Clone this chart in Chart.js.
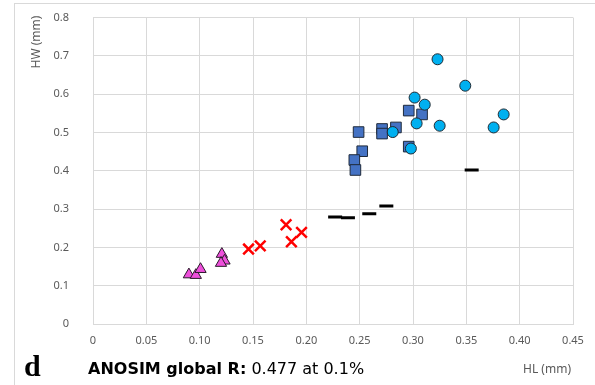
<!DOCTYPE html>
<html lang="en">
  <head>
    <meta charset="UTF-8" />
    <title>HW vs HL</title>
    <script src="https://cdn.jsdelivr.net/npm/chart.js"></script>
    <style>
      html, body { margin: 0; padding: 0; background: #fff; }
      #wrap { position: relative; width: 595px; height: 385px; overflow: hidden; }
      #frame {
        position: absolute; left: 14px; top: 3px; right: 0; bottom: 0;
        border-left: 1px solid #d9d9d9; border-top: 1px solid #d9d9d9;
      }
      canvas { position: absolute; left: 0; top: 0; }
      .lbl { position: absolute; white-space: nowrap; color: #595959; font-family: "Noto Sans", sans-serif; font-size: 12px; }
      #ytitle { left: 35px; top: 42px; transform: translate(-50%, -50%) rotate(-90deg); }
      #xtitle { right: 24px; top: 360px; }
      #letter { position: absolute; left: 24px; top: 349px; font-family: "Liberation Serif", serif; font-weight: bold; font-size: 30px; color: #000; }
      #anosim { position: absolute; left: 88px; top: 359px; font-family: "DejaVu Sans", sans-serif; font-size: 16px; color: #000; white-space: nowrap; }
    </style>
  </head>
  <body>
    <div id="wrap">
      <div id="frame"></div>
      <canvas id="hwChart" width="595" height="385"></canvas>
      <div class="lbl" id="ytitle">HW (mm)</div>
      <div class="lbl" id="xtitle">HL (mm)</div>
      <div id="letter">d</div>
      <div id="anosim"><b>ANOSIM global R:</b> 0.477 at 0.1%</div>
    </div>

    <script>
      // groups (HL on x, HW on y, both in mm)
      const circleHL = [0.323, 0.349, 0.3015, 0.311, 0.385, 0.3756, 0.325, 0.3034, 0.281, 0.298];
      const circleHW = [0.691, 0.622, 0.591, 0.5725, 0.547, 0.513, 0.5175, 0.5236, 0.501, 0.458];

      const squareHL = [0.249, 0.2524, 0.245, 0.246, 0.271, 0.271, 0.284, 0.296, 0.3085, 0.296];
      const squareHW = [0.501, 0.451, 0.428, 0.402, 0.509, 0.497, 0.513, 0.557, 0.547, 0.463];

      const dashHL = [0.227, 0.239, 0.259, 0.275, 0.355];
      const dashHW = [0.279, 0.2775, 0.288, 0.308, 0.402];

      const crossHL = [0.1458, 0.1568, 0.181, 0.1955, 0.186];
      const crossHW = [0.1956, 0.204, 0.259, 0.239, 0.2147];

      const triHL = [0.0899, 0.0964, 0.1008, 0.1208, 0.1233, 0.12];
      const triHW = [0.129, 0.1275, 0.143, 0.1825, 0.165, 0.159];

      const xTicks = [0, 0.05, 0.1, 0.15, 0.2, 0.25, 0.3, 0.35, 0.4, 0.45];
      const yTicks = [0, 0.1, 0.2, 0.3, 0.4, 0.5, 0.6, 0.7, 0.8];

      const pts = (xs, ys) => xs.map((x, i) => ({ x: x, y: ys[i] }));

      const grid = "#d9d9d9";
      const tickFont = { family: "Noto Sans", size: 11 };

      const ctx = document.getElementById("hwChart").getContext("2d");
      new Chart(ctx, {
        type: "scatter",
        data: {
          datasets: [
            {
              data: pts(circleHL, circleHW),
              pointStyle: "circle",
              pointRadius: 5.5,
              backgroundColor: "#00b0f0",
              borderColor: "#1f2a33",
              borderWidth: 1,
            },
            {
              data: pts(squareHL, squareHW),
              pointStyle: "rect",
              pointRadius: 7.5,
              backgroundColor: "#4472c4",
              borderColor: "#1f2a3a",
              borderWidth: 1,
            },
            {
              data: pts(dashHL, dashHW),
              pointStyle: "line",
              pointRadius: 7,
              borderColor: "#000",
              borderWidth: 3,
            },
            {
              data: pts(crossHL, crossHW),
              pointStyle: "crossRot",
              pointRadius: 7.5,
              borderColor: "#ff0000",
              borderWidth: 2.5,
            },
            {
              data: pts(triHL, triHW),
              pointStyle: "triangle",
              pointRadius: 6.5,
              backgroundColor: "#ee4fdb",
              borderColor: "#2a1a2a",
              borderWidth: 1,
            },
          ],
        },
        options: {
          responsive: false,
          animation: false,
          layout: { padding: { left: 0, right: 22, top: 17.5, bottom: 0 } },
          plugins: { legend: { display: false }, tooltip: { enabled: false } },
          scales: {
            x: {
              type: "linear",
              min: 0,
              max: 0.45,
              afterBuildTicks: (s) => { s.ticks = xTicks.map((v) => ({ value: v })); },
              afterFit: (s) => {
                s.height = 61;
                s.paddingLeft = 0;
                s.paddingRight = 0;
              },
              grid: { color: grid, drawTicks: false },
              border: { color: grid },
              ticks: {
                padding: 10,
                color: "#595959",
                font: tickFont,
                maxRotation: 0,
                callback: (v) => (v === 0 ? "0" : v.toFixed(2)),
              },
            },
            y: {
              type: "linear",
              min: 0,
              max: 0.8,
              afterBuildTicks: (s) => { s.ticks = yTicks.map((v) => ({ value: v })); },
              afterFit: (s) => {
                s.width = 93;
                s.paddingTop = 0;
                s.paddingBottom = 0;
              },
              grid: { color: grid, drawTicks: false },
              border: { color: grid },
              ticks: {
                padding: 24,
                color: "#595959",
                font: tickFont,
                callback: (v) => (v === 0 ? "0" : v.toFixed(1)),
              },
            },
          },
        },
      });
    </script>
  </body>
</html>
